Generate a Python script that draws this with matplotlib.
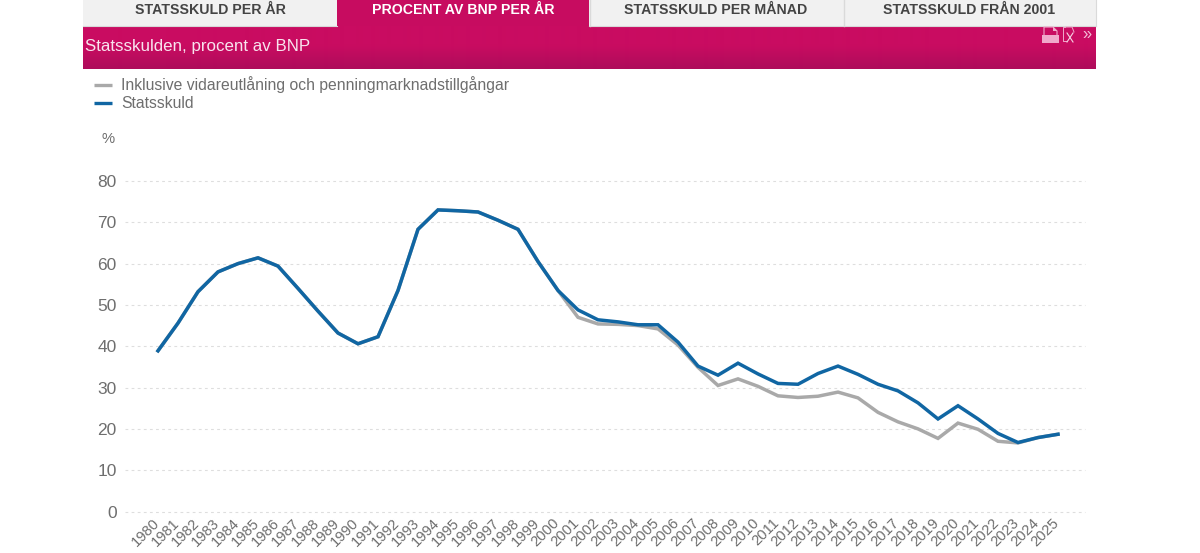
"""Statsskulden, procent av BNP: web chart with tab bar and banner."""
import numpy as np
import matplotlib
matplotlib.use("Agg")  # headless
import matplotlib.pyplot as plt
from matplotlib.patches import Rectangle, Polygon
from matplotlib.transforms import ScaledTranslation

plt.rcParams["font.family"] = ["Liberation Sans", "DejaVu Sans"]

# ---------------------------------------------------------------------------
# Data
# ---------------------------------------------------------------------------
years = list(range(1980, 2026))
statsskuld = [38.9, 45.6, 53.2, 58.0, 60.0, 61.4, 59.4, 54.0, 48.5, 43.2,
              40.6, 42.3, 53.5, 68.3, 73.0, 72.8, 72.5, 70.5, 68.3, 60.5,
              53.5, 48.8, 46.4, 45.9, 45.2, 45.2, 41.0, 35.2, 33.0, 35.9,
              33.3, 31.0, 30.8, 33.4, 35.2, 33.2, 30.8, 29.2, 26.3, 22.4,
              25.6, 22.4, 18.9, 16.7, 17.9, 18.7]
inklusive = [38.9, 45.6, 53.2, 58.0, 60.0, 61.4, 59.4, 54.0, 48.5, 43.2,
             40.6, 42.3, 53.5, 68.3, 73.0, 72.8, 72.5, 70.5, 68.3, 60.5,
             53.5, 47.0, 45.4, 45.3, 45.0, 44.2, 40.3, 34.9, 30.5, 32.1,
             30.3, 28.0, 27.6, 27.9, 28.9, 27.5, 24.0, 21.7, 20.0, 17.7,
             21.4, 19.9, 17.0, 16.6, 17.9, 18.7]
y_ticks = [0, 10, 20, 30, 40, 50, 60, 70, 80]
tab_labels = ["STATSSKULD PER ÅR", "PROCENT AV BNP PER ÅR",
              "STATSSKULD PER MÅNAD", "STATSSKULD FRÅN 2001"]
legend_labels = ["Inklusive vidareutlåning och penningmarknadstillgångar", "Statsskuld"]

GREY = "#A9A9A9"
BLUE = "#1066A3"
MAGENTA = "#C70C60"
TEXT = "#6E6E6E"

W, H = 1200, 553
fig = plt.figure(figsize=(W / 100, H / 100), dpi=100, facecolor="white")

# ---------------------------------------------------------------------------
# Page furniture, in pixel coordinates
# ---------------------------------------------------------------------------
bg = fig.add_axes([0, 0, 1, 1])
bg.set_xlim(0, W)
bg.set_ylim(H, 0)
bg.axis("off")

tab_edges = [83, 337, 589, 843, 1096]
for i, label in enumerate(tab_labels):
    active = i == 1
    bg.add_patch(Rectangle((tab_edges[i], 0), tab_edges[i + 1] - tab_edges[i], 26,
                           facecolor=MAGENTA if active else "#F1F1F1",
                           edgecolor="none"))
    if i > 1:
        bg.plot([tab_edges[i] + 0.5] * 2, [0, 26], color="#DADADA", lw=1)
    bg.text((tab_edges[i] + tab_edges[i + 1]) / 2, 10, label, ha="center", va="center",
            fontsize=10.2, fontweight="bold", color="white" if active else "#444444")
bg.plot([83, 337], [25.5, 25.5], color="#D8D8D8", lw=0.8)
bg.plot([589, 1096], [25.5, 25.5], color="#D8D8D8", lw=0.8)
bg.plot([1096, 1096], [0, 26], color="#DADADA", lw=0.8)

# Banner with a slight vertical gradient
gradient = np.linspace(0, 1, 43)[:, None, None]
top = np.array(matplotlib.colors.to_rgb("#C90C61"))
bottom = np.array(matplotlib.colors.to_rgb("#AE0C5B"))
shade = np.where(gradient < 0.45, 0, (gradient - 0.45) / 0.55)
bg.imshow(top + (bottom - top) * shade, extent=[83, 1096, 69, 26], aspect="auto",
          interpolation="bilinear", zorder=1)
bg.set_xlim(0, W)
bg.set_ylim(H, 0)
bg.text(85, 47, "Statsskulden, procent av BNP", ha="left", va="center",
        fontsize=12.2, color="#F8E4EE", zorder=3)

# Export icons in the banner corner
icon = "#F0A9CB"
bg.add_patch(Rectangle((1042, 35), 16.5, 8, facecolor=icon, edgecolor="none", zorder=3))
bg.plot([1044, 1044, 1053, 1057, 1057], [35, 27, 27, 31, 35], color=icon, lw=0.8, zorder=3)
bg.add_patch(Polygon([(1053, 27), (1057, 31), (1053, 31)], closed=True,
                     facecolor=icon, edgecolor="none", zorder=3))
bg.plot([1065, 1063, 1063, 1066], [27, 27, 41, 41], color=icon, lw=0.7, zorder=3)
bg.plot([1066, 1072, 1074], [27, 27, 32], color=icon, lw=0.7, zorder=3)
bg.plot([1067, 1073], [33, 42], color="#F7D3E4", lw=0.8, zorder=3)
bg.plot([1073, 1067], [33, 42], color="#F7D3E4", lw=0.8, zorder=3)
bg.text(1086.5, 34, "»", ha="center", va="center", fontsize=12, color="#F3BCD6", zorder=3)

# ---------------------------------------------------------------------------
# Legend and unit label
# ---------------------------------------------------------------------------
for y, label, color in zip([84.5, 103], legend_labels, [GREY, BLUE]):
    bg.plot([94, 112], [y, y], color=color, lw=2.4, solid_capstyle="butt")
    bg.text(121, y + 0.3, label, ha="left", va="center", fontsize=11.3, color=TEXT)
bg.text(102, 139, "%", ha="left", va="center", fontsize=10.6, color=TEXT)

# ---------------------------------------------------------------------------
# Chart, axes placed so that 1980 = 158 px, 2025 = 1058 px, 0 = 511.5, 80 = 181
# ---------------------------------------------------------------------------
left, right, y_bottom, y_top = 125, 1085, 511.5, 181
ax = fig.add_axes([left / W, 1 - y_bottom / H, (right - left) / W, (y_bottom - y_top) / H])
ax.patch.set_alpha(0)
ax.set_xlim(1980 - (158 - left) / 20, 2025 + (right - 1058) / 20)
ax.set_ylim(0, 80)

ax.plot(years, inklusive, color=GREY, lw=2.5, solid_joinstyle="miter", clip_on=False, zorder=3)
ax.plot(years, statsskuld, color=BLUE, lw=2.5, solid_joinstyle="miter", clip_on=False, zorder=4)

for spine in ax.spines.values():
    spine.set_visible(False)
ax.set_yticks(y_ticks)
ax.grid(axis="y", color="#DEDEDE", lw=0.8, linestyle=(0, (2.5, 3)), clip_on=False)
ax.set_axisbelow(True)
ax.tick_params(axis="y", length=0, pad=6, labelsize=12.5, labelcolor=TEXT)
ax.set_xticks(years)
ax.set_xticklabels(years, rotation=45, ha="right", va="top", rotation_mode="anchor")
ax.tick_params(axis="x", length=0, pad=3, labelsize=10.6, labelcolor=TEXT)
shift = ScaledTranslation(-6 / 100, 0, fig.dpi_scale_trans)
for tick_label in ax.get_xticklabels():
    tick_label.set_transform(tick_label.get_transform() + shift)

fig.savefig("out.png", dpi=100)
